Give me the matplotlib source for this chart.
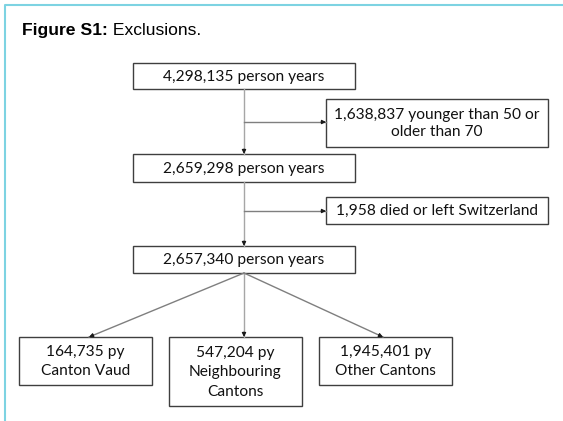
import matplotlib
matplotlib.use("Agg")
import matplotlib.pyplot as plt
from matplotlib.patches import Rectangle
import numpy as np

# flowchart content
title_bold = "Figure S1:"
title_rest = " Exclusions."
main_labels = ["4,298,135 person years", "2,659,298 person years", "2,657,340 person years"]
side_labels = ["1,638,837 younger than 50 or\nolder than 70", "1,958 died or left Switzerland"]
region_labels = ["164,735 py\nCanton Vaud", "547,204 py\nNeighbouring\nCantons", "1,945,401 py\nOther Cantons"]

W, H = 563, 421
fig = plt.figure(figsize=(W / 100, H / 100), dpi=100)
ax = fig.add_axes([0, 0, 1, 1])
ax.set_xlim(0, W)
ax.set_ylim(H, 0)
ax.axis("off")

BOX_FONT = "Lato"
FS = 11.2
EDGE = "#3f3f3f"
CONN = "#a6a6a6"
DIAG = "#7f7f7f"

# frame (only top and left edges visible)
ax.plot([4.5, 4.5, W], [H, 5, 5], color="#7dd3e2", lw=1.5, solid_capstyle="butt")

# title
t = ax.text(22, 30.5, title_bold, fontsize=12.6, fontweight="bold",
            family="Liberation Sans", va="center", ha="left")
fig.canvas.draw()
bb = t.get_window_extent()
x_end = bb.x1 / fig.dpi * 100
ax.text(x_end, 30.5, title_rest, fontsize=12.6, family="Liberation Sans",
        va="center", ha="left")


def box(x0, x1, y0, y1, label, ls=1.3):
    ax.add_patch(Rectangle((x0, y0), x1 - x0, y1 - y0, fill=False,
                           edgecolor=EDGE, lw=1.0))
    ax.text((x0 + x1) / 2, (y0 + y1) / 2 + 0.5, label, ha="center", va="center",
            family=BOX_FONT, fontsize=FS, linespacing=ls, color="#111111")


def arrow(x0, y0, x1, y1, color):
    ax.plot([x0, x1], [y0, y1], color=color, lw=1.0)
    d = np.array([x1 - x0, y1 - y0], dtype=float)
    d /= np.hypot(*d)
    sx, sy = np.array([x1, y1]) - 5 * d
    ax.annotate("", xy=(x1, y1), xytext=(sx, sy),
                arrowprops=dict(arrowstyle="-|>", color="#1a1a1a", lw=0.8,
                                mutation_scale=6, shrinkA=0, shrinkB=0))


# main column
main_rows = [(63, 89), (154, 182), (246, 273)]
for (y0, y1), lab in zip(main_rows, main_labels):
    box(132.5, 354.5, y0, y1, lab)

# side exclusions
side_rows = [(99, 147), (197, 224)]
for (y0, y1), lab in zip(side_rows, side_labels):
    box(326, 547.5, y0, y1, lab, ls=1.35)

cx = 244
arrow(cx, 89, cx, 154, CONN)
arrow(cx, 182, cx, 246, CONN)
arrow(cx, 122, 326, 122, DIAG)
arrow(cx, 211, 326, 211, DIAG)

# regional split
region_cols = [(19, 152, 385), (169, 302, 406), (319, 452, 385)]
for (x0, x1, y1), lab in zip(region_cols, region_labels):
    box(x0, x1, 337, y1, lab, ls=1.5)

arrow(cx, 273, 89, 337, DIAG)
arrow(cx, 273, cx, 337, CONN)
arrow(cx, 273, 383, 337, DIAG)

fig.savefig("out.png", dpi=100)
